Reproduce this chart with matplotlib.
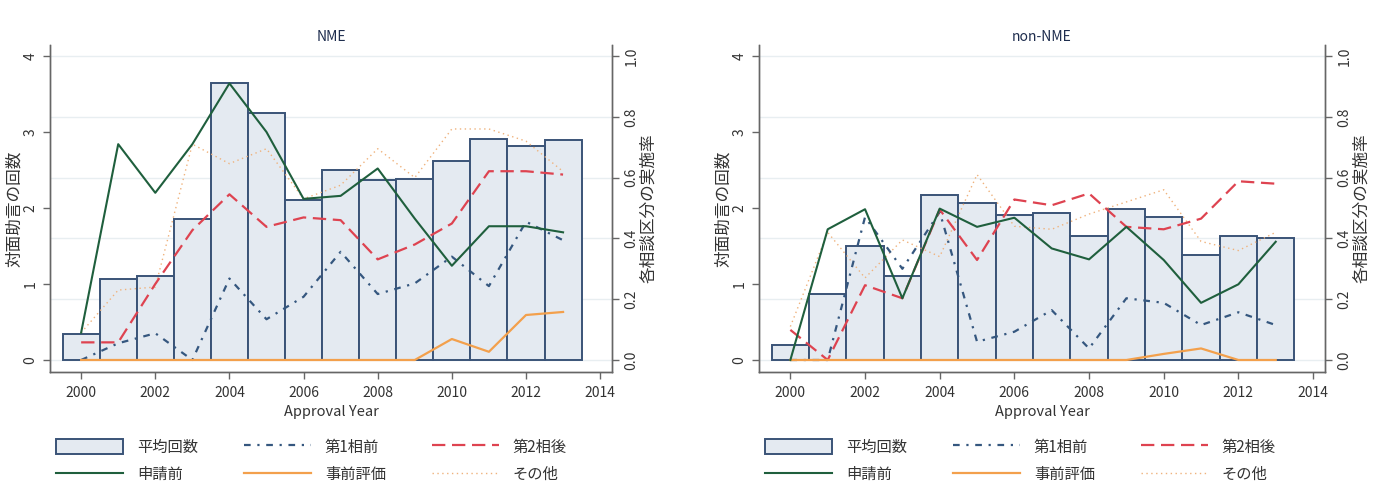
import matplotlib
matplotlib.use("Agg")
import matplotlib.pyplot as plt
from matplotlib.patches import Patch
from matplotlib.lines import Line2D

plt.rcParams['font.family'] = ['Noto Sans CJK JP', 'DejaVu Sans']

years = list(range(2000, 2014))

# NME panel
nme_avg = [0.34, 1.07, 1.10, 1.86, 3.64, 3.25, 2.11, 2.50, 2.37, 2.38, 2.62, 2.91, 2.82, 2.90]
nme_pre_app = [0.09, 0.71, 0.55, 0.71, 0.91, 0.75, 0.53, 0.54, 0.63, 0.465, 0.31, 0.44, 0.44, 0.42]
nme_p1 = [0.0, 0.055, 0.088, 0.0, 0.268, 0.134, 0.208, 0.356, 0.217, 0.252, 0.34, 0.243, 0.455, 0.394]
nme_eval = [0.0, 0.0, 0.0, 0.0, 0.0, 0.0, 0.0, 0.0, 0.0, 0.0, 0.069, 0.027, 0.148, 0.158]
nme_p2 = [0.058, 0.058, 0.25, 0.427, 0.545, 0.438, 0.469, 0.46, 0.331, 0.38, 0.449, 0.621, 0.621, 0.61]
nme_other = [0.09, 0.23, 0.24, 0.71, 0.646, 0.695, 0.53, 0.575, 0.695, 0.60, 0.76, 0.76, 0.72, 0.62]

# non-NME panel
non_avg = [0.20, 0.87, 1.50, 1.10, 2.17, 2.06, 1.91, 1.94, 1.63, 1.99, 1.88, 1.38, 1.63, 1.60]
non_pre_app = [0.0, 0.43, 0.496, 0.203, 0.498, 0.438, 0.468, 0.367, 0.331, 0.438, 0.329, 0.188, 0.249, 0.389]
non_p1 = [0.0, 0.0, 0.47, 0.30, 0.487, 0.06, 0.093, 0.164, 0.038, 0.203, 0.188, 0.115, 0.157, 0.115]
non_eval = [0.0, 0.0, 0.0, 0.0, 0.0, 0.0, 0.0, 0.0, 0.0, 0.0, 0.02, 0.038, 0.0, 0.0]
non_p2 = [0.099, 0.0, 0.246, 0.203, 0.495, 0.329, 0.528, 0.509, 0.548, 0.438, 0.43, 0.465, 0.588, 0.58]
non_other = [0.11, 0.42, 0.27, 0.395, 0.34, 0.61, 0.44, 0.43, 0.48, 0.52, 0.56, 0.39, 0.36, 0.42]

titles = ["NME", "non-NME"]
left_label = "対面助言の回数"
right_label = "各相談区分の実施率"
x_label = "Approval Year"
legend_labels = ["平均回数", "申請前", "第1相前", "事前評価", "第2相後", "その他"]
count_ticks = [0, 1, 2, 3, 4]
rate_ticks = [0.0, 0.2, 0.4, 0.6, 0.8, 1.0]
rate_tick_labels = ["0.0", "0.2", "0.4", "0.6", "0.8", "1.0"]
year_ticks = list(range(2000, 2015, 2))

C_BAR = "#e4eaf1"
C_EDGE = "#3a5377"
C_GREEN = "#1f5f3d"
C_ORANGE = "#f3a04c"
C_RED = "#de4350"
C_BLUE = "#35577f"
C_OTHER = "#efb27c"
C_GRID = "#e8eef1"
C_TEXT = "#333333"
C_SPINE = "#666666"

fig = plt.figure(figsize=(13.98, 4.96), dpi=100)
positions = [(50, 612), (759, 1325)]
data = [
    (nme_avg, nme_pre_app, nme_p1, nme_eval, nme_p2, nme_other),
    (non_avg, non_pre_app, non_p1, non_eval, non_p2, non_other),
]
W, H = 1398, 496
top_px, bot_px = 45, 372
for (lx, rx), title, (avg, pre, p1, ev, p2, oth) in zip(positions, titles, data):
    ax = fig.add_axes([lx / W, 1 - bot_px / H, (rx - lx) / W, (bot_px - top_px) / H])
    ax2 = ax.twinx()
    ylo, yhi = -0.158, 4.145
    ax.set_ylim(ylo, yhi)
    ax2.set_ylim(ylo / 4, yhi / 4)
    ax.set_xlim(1999.16, 2014.32)
    for t in rate_ticks:
        ax.axhline(t * 4, color=C_GRID, lw=1.0, zorder=0)
    ax.bar(years, avg, width=1.0, color=C_BAR, edgecolor=C_EDGE, linewidth=1.4, zorder=2)
    ax2.plot(years, oth, color=C_OTHER, lw=1.0, ls=(0, (1, 2.5)), zorder=3)
    ax2.plot(years, p1, color=C_BLUE, lw=1.6, ls=(0, (3, 3, 1, 3)), zorder=4)
    ax2.plot(years, p2, color=C_RED, lw=1.6, ls=(0, (6, 3)), zorder=4)
    ax2.plot(years, ev, color=C_ORANGE, lw=1.6, zorder=4)
    ax2.plot(years, pre, color=C_GREEN, lw=1.5, zorder=5)

    ax.set_yticks(count_ticks)
    ax.set_yticklabels([str(t) for t in count_ticks], rotation=90, va='center')
    ax2.set_yticks(rate_ticks)
    ax2.set_yticklabels(rate_tick_labels, rotation=90, va='center')
    ax.set_xticks(year_ticks)
    for a in (ax, ax2):
        a.spines['top'].set_visible(False)
        for s in ('left', 'right', 'bottom'):
            a.spines[s].set_color(C_SPINE)
            a.spines[s].set_linewidth(1.0)
        a.tick_params(colors=C_SPINE, labelcolor=C_TEXT, labelsize=10, length=5, width=1.0, pad=4)
    ax.tick_params(axis='x', pad=5)
    ax.set_ylabel(left_label, fontsize=12, color=C_TEXT, labelpad=0)
    ax2.set_ylabel(right_label, fontsize=12, color=C_TEXT, rotation=90, labelpad=1)
    ax.set_xlabel(x_label, fontsize=10.5, color=C_TEXT, labelpad=4)
    ax.set_title(title, fontsize=10, color="#1e2d4e", pad=3)

    handles = [
        Patch(facecolor=C_BAR, edgecolor=C_EDGE, linewidth=1.4),
        Line2D([], [], color=C_GREEN, lw=1.5),
        Line2D([], [], color=C_BLUE, lw=1.6, ls=(0, (3, 3, 1, 3))),
        Line2D([], [], color=C_ORANGE, lw=1.6),
        Line2D([], [], color=C_RED, lw=1.6, ls=(0, (6, 3))),
        Line2D([], [], color=C_OTHER, lw=1.0, ls=(0, (1, 2.5))),
    ]
    leg = ax.legend(handles, legend_labels, ncol=3, loc='upper left',
                    bbox_to_anchor=(0.0, -0.185), frameon=False, fontsize=11,
                    handlelength=4.4, handleheight=1.1, handletextpad=0.9,
                    columnspacing=3.0, labelspacing=0.7, borderaxespad=0)
    for t in leg.get_texts():
        t.set_color(C_TEXT)

fig.savefig("out.png", dpi=100, facecolor="white")
